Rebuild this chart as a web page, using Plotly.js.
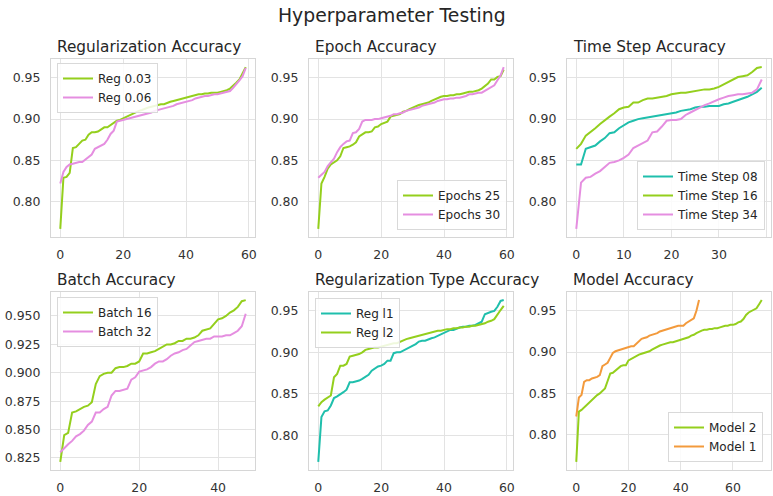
<!DOCTYPE html>
<html>
<head>
<meta charset="utf-8">
<script src="https://cdn.plot.ly/plotly-3.0.1.min.js"></script>
<style>html,body{margin:0;padding:0;background:#fff;}#chart{width:773px;height:496px;}</style>
</head>
<body>
<div id="chart"></div>
<script>
// ---- Data ----
const reg003 = [0.767,0.829,0.830,0.835,0.865,0.866,0.870,0.874,0.875,0.881,0.884,0.884,0.885,0.887,0.890,0.890,0.893,0.896,0.898,0.899,0.901,0.903,0.905,0.906,0.908,0.910,0.911,0.913,0.914,0.915,0.916,0.917,0.918,0.918,0.920,0.921,0.922,0.923,0.924,0.925,0.926,0.927,0.928,0.929,0.930,0.930,0.931,0.931,0.932,0.932,0.932,0.933,0.934,0.935,0.937,0.940,0.944,0.948,0.955,0.963];
const reg006 = [0.822,0.836,0.842,0.845,0.846,0.847,0.848,0.848,0.851,0.855,0.857,0.864,0.866,0.868,0.870,0.875,0.882,0.886,0.897,0.898,0.899,0.900,0.901,0.902,0.903,0.904,0.905,0.906,0.907,0.908,0.910,0.911,0.912,0.913,0.914,0.915,0.916,0.918,0.919,0.920,0.921,0.922,0.923,0.925,0.926,0.927,0.928,0.928,0.929,0.930,0.930,0.931,0.932,0.933,0.934,0.938,0.942,0.947,0.952,0.962];

const ep25 = [0.767,0.822,0.830,0.840,0.845,0.847,0.850,0.855,0.865,0.866,0.867,0.869,0.872,0.879,0.882,0.884,0.884,0.885,0.890,0.891,0.894,0.896,0.897,0.903,0.904,0.905,0.906,0.909,0.910,0.912,0.914,0.916,0.917,0.918,0.919,0.920,0.922,0.924,0.926,0.927,0.928,0.928,0.929,0.929,0.930,0.930,0.931,0.932,0.933,0.933,0.934,0.935,0.937,0.940,0.943,0.948,0.948,0.951,0.952,0.960];
const ep30 = [0.829,0.833,0.836,0.843,0.848,0.852,0.860,0.866,0.870,0.873,0.874,0.883,0.884,0.888,0.897,0.899,0.899,0.899,0.900,0.900,0.901,0.902,0.903,0.904,0.906,0.906,0.907,0.908,0.910,0.911,0.912,0.913,0.914,0.916,0.917,0.918,0.919,0.920,0.922,0.923,0.924,0.924,0.925,0.925,0.926,0.926,0.927,0.928,0.930,0.930,0.931,0.932,0.932,0.934,0.936,0.938,0.941,0.947,0.953,0.963];

const ts08 = [0.845,0.845,0.864,0.866,0.868,0.873,0.877,0.883,0.884,0.889,0.893,0.896,0.898,0.900,0.901,0.902,0.903,0.904,0.905,0.906,0.907,0.908,0.910,0.911,0.912,0.914,0.915,0.915,0.916,0.916,0.916,0.918,0.919,0.921,0.923,0.925,0.927,0.930,0.933,0.938];
const ts16 = [0.864,0.870,0.880,0.884,0.889,0.894,0.899,0.903,0.907,0.912,0.914,0.915,0.920,0.920,0.923,0.925,0.925,0.926,0.927,0.928,0.930,0.931,0.932,0.932,0.933,0.934,0.935,0.936,0.936,0.937,0.939,0.942,0.945,0.948,0.951,0.952,0.953,0.957,0.962,0.963];
const ts34 = [0.767,0.823,0.829,0.830,0.834,0.837,0.842,0.847,0.848,0.850,0.853,0.857,0.865,0.868,0.871,0.874,0.884,0.885,0.891,0.898,0.899,0.899,0.900,0.905,0.908,0.911,0.914,0.917,0.919,0.922,0.924,0.926,0.928,0.929,0.930,0.930,0.931,0.932,0.936,0.948];

const b16 = [0.8215,0.845,0.847,0.865,0.866,0.868,0.870,0.871,0.874,0.890,0.897,0.899,0.900,0.900,0.904,0.905,0.905,0.906,0.908,0.908,0.910,0.917,0.917,0.918,0.919,0.921,0.923,0.925,0.925,0.926,0.928,0.928,0.930,0.930,0.931,0.933,0.937,0.938,0.939,0.943,0.947,0.948,0.950,0.953,0.955,0.958,0.963,0.964];
const b32 = [0.830,0.834,0.837,0.840,0.844,0.846,0.849,0.854,0.857,0.865,0.865,0.868,0.870,0.880,0.884,0.884,0.885,0.886,0.894,0.896,0.901,0.902,0.903,0.905,0.908,0.910,0.910,0.912,0.915,0.917,0.918,0.920,0.921,0.924,0.927,0.928,0.929,0.930,0.930,0.932,0.932,0.932,0.933,0.933,0.935,0.937,0.941,0.952];

const regL1 = [0.768,0.822,0.829,0.830,0.836,0.845,0.847,0.849,0.852,0.855,0.864,0.864,0.865,0.866,0.868,0.870,0.873,0.878,0.881,0.883,0.884,0.886,0.890,0.890,0.899,0.900,0.900,0.902,0.903,0.906,0.908,0.910,0.913,0.914,0.914,0.916,0.917,0.918,0.920,0.921,0.923,0.925,0.927,0.927,0.929,0.930,0.931,0.931,0.932,0.932,0.933,0.935,0.937,0.946,0.948,0.949,0.950,0.955,0.962,0.963];
const regL2 = [0.835,0.840,0.843,0.846,0.848,0.870,0.874,0.884,0.884,0.886,0.895,0.896,0.897,0.898,0.900,0.903,0.904,0.905,0.906,0.906,0.907,0.908,0.909,0.910,0.911,0.911,0.913,0.914,0.916,0.917,0.918,0.919,0.920,0.921,0.922,0.923,0.924,0.925,0.926,0.926,0.927,0.928,0.928,0.929,0.929,0.930,0.930,0.931,0.931,0.932,0.932,0.933,0.934,0.935,0.937,0.938,0.940,0.946,0.951,0.956];

const model2 = [0.767,0.828,0.830,0.833,0.836,0.840,0.843,0.846,0.848,0.850,0.853,0.856,0.865,0.874,0.875,0.878,0.881,0.883,0.884,0.884,0.890,0.892,0.894,0.896,0.897,0.898,0.899,0.900,0.901,0.903,0.905,0.906,0.908,0.909,0.910,0.911,0.912,0.912,0.913,0.914,0.915,0.916,0.917,0.918,0.920,0.921,0.923,0.925,0.926,0.927,0.927,0.928,0.928,0.929,0.929,0.930,0.931,0.932,0.932,0.933,0.933,0.934,0.936,0.937,0.940,0.945,0.948,0.950,0.951,0.953,0.958,0.963];
const model1 = [0.822,0.845,0.848,0.864,0.866,0.866,0.868,0.869,0.870,0.872,0.883,0.885,0.887,0.893,0.899,0.901,0.902,0.903,0.904,0.905,0.906,0.907,0.907,0.910,0.914,0.916,0.917,0.918,0.920,0.921,0.922,0.923,0.925,0.926,0.927,0.928,0.929,0.930,0.931,0.932,0.932,0.932,0.935,0.937,0.939,0.941,0.950,0.963];

const mainTitle = "Hyperparameter Testing";
const subTitles = ["Regularization Accuracy","Epoch Accuracy","Time Step Accuracy","Batch Accuracy","Regularization Type Accuracy","Model Accuracy"];

// ---- Styling ----
const GREEN = "#94cf1d", PINK = "#e58ee0", TEAL = "#1fbfac", ORANGE = "#f39a3c";
const FONT = "DejaVu Sans, sans-serif";

function idx(arr){ return arr.map((_, i) => i); }
function tr(y, name, color, n, leg){
  const t = {x: idx(y), y: y, name: name, type: "scatter", mode: "lines",
    line: {color: color, width: 2}, xaxis: "x" + (n === 1 ? "" : n), yaxis: "y" + (n === 1 ? "" : n)};
  t.legend = leg;
  return t;
}

const traces = [
  tr(reg003, "Reg 0.03", GREEN, 1, "legend"),
  tr(reg006, "Reg 0.06", PINK, 1, "legend"),
  tr(ep25, "Epochs 25", GREEN, 2, "legend2"),
  tr(ep30, "Epochs 30", PINK, 2, "legend2"),
  tr(ts08, "Time Step 08", TEAL, 3, "legend3"),
  tr(ts16, "Time Step 16", GREEN, 3, "legend3"),
  tr(ts34, "Time Step 34", PINK, 3, "legend3"),
  tr(b16, "Batch 16", GREEN, 4, "legend4"),
  tr(b32, "Batch 32", PINK, 4, "legend4"),
  tr(regL1, "Reg l1", TEAL, 5, "legend5"),
  tr(regL2, "Reg l2", GREEN, 5, "legend5"),
  tr(model2, "Model 2", GREEN, 6, "legend6"),
  tr(model1, "Model 1", ORANGE, 6, "legend6")
];

const groups = [[reg003, reg006],[ep25, ep30],[ts08, ts16, ts34],[b16, b32],[regL1, regL2],[model2, model1]];

const W = 773, H = 496;
const colPx = [[51,255],[309,513],[567,771]];
const rowPx = [[59,237],[292,470]];

const layout = {
  width: W, height: H,
  margin: {l:0, r:0, t:0, b:0},
  paper_bgcolor: "#ffffff", plot_bgcolor: "#ffffff",
  font: {family: FONT, color: "#262626", size: 12},
  showlegend: true,
  annotations: []
};

layout.annotations.push({text: mainTitle, xref:"paper", yref:"paper", x: 392/W, y: 1-15/H,
  xanchor:"center", yanchor:"middle", showarrow:false, font:{family:FONT, size:18.8, color:"#262626"}});

for (let k = 0; k < 6; k++){
  const n = k + 1;
  const c = k % 3, r = Math.floor(k / 3);
  const g = groups[k];
  const maxLen = Math.max(...g.map(a => a.length));
  const allY = g.flat();
  const ymin = Math.min(...allY), ymax = Math.max(...allY);
  const ypad = (ymax - ymin) * 0.05, xpad = (maxLen - 1) * 0.05;
  const isBatch = (k === 3);
  const ax = {
    domain: [colPx[c][0]/W, colPx[c][1]/W],
    anchor: "y" + (n === 1 ? "" : n),
    range: [-xpad, maxLen - 1 + xpad],
    dtick: (k === 2) ? 10 : 20, tick0: 0,
    showline: true, mirror: true, linecolor: "#d6d6d6", linewidth: 1,
    showgrid: true, gridcolor: "#e3e3e3", gridwidth: 1, zeroline: false,
    ticks: "", ticklabelstandoff: 6,
    tickfont: {family: FONT, size: 12.5, color: "#333333"}
  };
  const ay = {
    domain: [1 - rowPx[r][1]/H, 1 - rowPx[r][0]/H],
    anchor: "x" + (n === 1 ? "" : n),
    range: [ymin - ypad, ymax + ypad],
    dtick: isBatch ? 0.025 : 0.05, tick0: 0,
    tickformat: isBatch ? ".3f" : ".2f",
    showline: true, mirror: true, linecolor: "#d6d6d6", linewidth: 1,
    showgrid: true, gridcolor: "#e3e3e3", gridwidth: 1, zeroline: false,
    ticks: "", ticklabelstandoff: 7,
    tickfont: {family: FONT, size: 12.5, color: "#333333"}
  };
  layout["xaxis" + (n === 1 ? "" : n)] = ax;
  layout["yaxis" + (n === 1 ? "" : n)] = ay;
  layout.annotations.push({text: subTitles[k], xref:"paper", yref:"paper",
    x: (colPx[c][0] + 4)/W, y: 1 - (rowPx[r][0] - 12)/H, xanchor:"left", yanchor:"middle",
    showarrow:false, font:{family:FONT, size:15.3, color:"#262626"}});
}

const legBase = {bgcolor:"rgba(255,255,255,0.85)", bordercolor:"#d9d9d9", borderwidth:1,
  font:{family:FONT, size:12, color:"#262626"}, xref:"paper", yref:"paper", itemwidth:30, tracegroupgap:0};
layout.legend  = Object.assign({}, legBase, {x: 57/W,  y: 1-63/H,  xanchor:"left",  yanchor:"top"});
layout.legend2 = Object.assign({}, legBase, {x: 507/W, y: 1-230/H, xanchor:"right", yanchor:"bottom"});
layout.legend3 = Object.assign({}, legBase, {x: 765/W, y: 1-230/H, xanchor:"right", yanchor:"bottom"});
layout.legend4 = Object.assign({}, legBase, {x: 57/W,  y: 1-297/H, xanchor:"left",  yanchor:"top"});
layout.legend5 = Object.assign({}, legBase, {x: 315/W, y: 1-298/H, xanchor:"left",  yanchor:"top"});
layout.legend6 = Object.assign({}, legBase, {x: 763/W, y: 1-462/H, xanchor:"right", yanchor:"bottom"});

Plotly.newPlot("chart", traces, layout, {staticPlot: true, displayModeBar: false});
</script>
</body>
</html>
